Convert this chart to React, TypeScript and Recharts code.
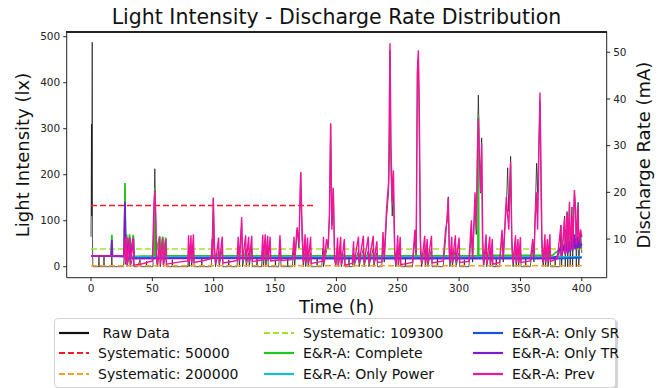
import { LineChart, Line, XAxis, YAxis, Label } from "recharts";

const timeTicks = [0, 50, 100, 150, 200, 250, 300, 350, 400];
const luxTicks = [0, 100, 200, 300, 400, 500];
const rateTicks = [10, 20, 30, 40, 50];

// raw light readings, [hour, lx]
const rawData: [number, number][] = [
  [0, 65], [0.2, 160], [0.4, 310], [0.6, 110], [0.8, 240], [1.0, 488], [1.2, 60], [1.5, 0],
  [6.3, 0], [6.5, 24], [6.7, 0], [10.4, 0], [10.6, 25], [10.8, 0], [16.8, 0], [17, 28], [17.2, 0],
  [26.5, 0], [27.2, 30], [27.6, 60], [28, 5], [29, 30], [29.4, 0], [31.5, 25], [32, 0], [34.5, 25], [35, 0],
  [38, 0], [40, 15], [40.3, 0], [45, 0], [45.3, 12], [45.6, 0],
  [50.5, 0], [51.3, 110], [52, 213], [52.6, 140], [53.2, 20], [54, 0],
  [56, 40], [56.5, 0], [58.5, 45], [59, 0], [61, 30], [61.5, 0], [66, 0], [66.3, 15], [66.6, 0],
  [79, 0], [79.5, 50], [80, 0], [81.5, 45], [82, 0], [83.5, 40], [84, 0], [90, 0], [90.3, 18], [90.6, 0],
  [98, 0], [99.2, 100], [99.7, 150], [100.5, 40], [101.5, 0], [104, 35], [104.5, 0], [107, 40], [107.5, 0],
  [112, 0], [112.3, 15], [112.6, 0],
  [119, 0], [120, 40], [121, 0], [122.8, 95], [123.5, 0], [126, 35], [126.5, 0], [128.5, 30], [129, 0], [131, 40], [131.5, 0],
  [135, 0], [135.3, 20], [135.6, 0], [139, 0], [140, 40], [140.5, 0], [142, 35], [142.5, 0], [144, 40], [144.5, 0],
  [150, 0], [150.3, 15], [150.6, 0], [153, 0], [154, 40], [155, 0], [160, 0], [160.3, 20], [160.6, 0],
  [164, 0], [165.5, 40], [166, 0], [168, 80], [169.5, 40], [170.9, 205], [172, 60], [173, 0], [174.5, 30], [175, 0],
  [176.5, 35], [177, 0], [179, 30], [179.5, 0], [184, 0], [184.3, 18], [184.6, 0],
  [188, 0], [189, 40], [189.5, 0], [192, 35], [193.5, 60], [194.5, 120], [195.3, 310], [196.3, 90], [197.5, 170],
  [198.5, 20], [199.5, 0], [201, 40], [201.5, 0], [203.5, 35], [204, 0], [206.5, 30], [207, 0], [210, 0], [210.3, 20], [210.6, 0],
  [213, 0], [214, 30], [214.5, 0], [218, 35], [218.5, 0], [222, 40], [222.5, 0], [226, 35], [226.5, 0], [230, 40], [230.5, 0], [233, 30], [233.5, 0],
  [237, 0], [238, 50], [239, 10], [241, 110], [242.5, 160], [243.3, 250], [243.7, 470], [244.5, 200], [245.5, 110],
  [246.5, 170], [247.5, 20], [248.5, 0], [250, 40], [250.5, 0], [252, 35], [252.5, 0], [256, 0], [256.3, 18], [256.6, 0],
  [262, 0], [264, 60], [265, 20], [266, 420], [266.8, 455], [267.5, 300], [268.5, 30], [269.5, 0], [272, 40], [272.5, 0],
  [274, 30], [274.5, 0], [277.5, 40], [278, 0], [282, 0], [282.3, 20], [282.6, 0],
  [287, 0], [289, 60], [290.4, 120], [291.2, 152], [292, 30], [292.5, 0], [294, 35], [294.5, 0], [297, 40], [297.5, 0], [300, 30], [300.5, 0],
  [304, 0], [304.3, 15], [304.6, 0],
  [308, 0], [310, 70], [311, 10], [313, 140], [314, 70], [315.2, 300], [315.7, 373], [316.5, 250], [317.5, 160], [318.4, 280],
  [319, 40], [320, 0], [322, 40], [322.5, 0], [325, 35], [325.5, 0], [327, 30], [327.5, 0], [330, 0], [330.3, 20], [330.6, 0],
  [333, 0], [335, 70], [336, 10], [337.5, 90], [338.5, 130], [339.6, 215], [340.5, 120], [342, 240], [343, 40], [344, 0],
  [346, 40], [346.5, 0], [348, 35], [348.5, 0], [350, 40], [350.5, 0], [354, 0], [354.3, 20], [354.6, 0],
  [358, 0], [360, 40], [361, 10], [362, 120], [363.2, 225], [364, 160], [365.9, 360], [366.8, 150], [367.5, 30], [368.5, 0],
  [370, 40], [370.5, 0], [372, 45], [372.5, 0], [374, 40], [374.5, 0], [378, 0], [378.3, 20], [378.6, 0],
  [382, 0], [383, 90], [383.5, 0], [386, 110], [386.5, 0], [388, 120], [388.5, 0], [390, 140], [390.5, 0], [392, 130], [392.5, 0],
  [394, 160], [395, 120], [395.5, 0], [397, 140], [397.5, 0], [399, 80], [400, 30],
];

// fixed-rate strategies, [hour, mA]
const sys50000: [number, number][] = [[0, 17.2], [182.6, 17.2]];
const sys200000: [number, number][] = [[0, 4.3], [400, 4.3]];
const sys109300: [number, number][] = [[0, 7.86], [400, 7.86]];

const completeData: [number, number][] = [
  [0, 6.4], [16.5, 6.4], [17, 10.9], [17.4, 6.4], [26, 6.4], [27.2, 6.3], [27.7, 22], [28.2, 6.3], [29, 11], [29.5, 6.3],
  [31.5, 11], [32, 6.3], [34.5, 10.9], [35, 6.3], [51.7, 6.4], [52.1, 21], [52.5, 6.4], [56, 10.6], [56.5, 6.4],
  [58.5, 10.5], [59, 6.4], [61, 10.3], [61.5, 6.4], [200, 6.4], [315.4, 6.4], [315.7, 36.5], [316, 6.5], [376, 6.5],
  [383, 8], [386, 7.5], [390, 8.2], [394, 9.5], [398, 8.6], [400, 8],
];
const onlyPowerData: [number, number][] = [[0, 6.4], [27, 6.3], [28, 6.2], [150, 6.2], [300, 6.2], [400, 6.2]];
const onlySRData: [number, number][] = [[0, 6.4], [27, 6.3], [27.7, 17], [28.2, 5.9], [50, 5.9], [200, 5.8], [380, 5.8], [400, 6.0]];
const onlyTRData: [number, number][] = [
  [0, 6.4], [16.5, 6.4], [17, 9.8], [17.4, 6.4], [27, 6.3], [27.7, 18], [28.2, 5.8], [29, 10.3], [29.5, 5.8],
  [31.5, 10.2], [32, 5.8], [34.5, 10], [35, 5.8], [100, 5.9], [250, 5.9], [376, 5.9], [380, 6.3], [383, 8.5], [383.5, 6.5],
  [386, 9], [386.5, 6.8], [388, 10], [388.5, 7], [390, 9.5], [390.5, 7.3], [392, 10.5], [392.5, 7.5], [394, 11], [394.5, 7.8],
  [396, 10.5], [396.5, 8], [398, 11], [398.5, 8.3], [400, 9],
];
const prevData: [number, number][] = [
  [0, 6.4], [26, 6.4], [27, 6.3], [27.6, 10.5], [28.1, 4.8], [29, 10.5], [29.5, 4.6], [31.5, 10.4], [32, 4.5], [34.5, 10.3], [35, 4.4],
  [42, 4.7], [50, 5.3], [51.3, 17], [52.1, 20.5], [52.8, 14], [53.5, 6], [54.3, 4.5], [56, 10.4], [56.5, 4.5], [58.5, 10.3], [59, 4.5], [61, 10], [61.5, 4.6],
  [70, 5.0], [79, 5.3], [79.5, 10.8], [80, 5], [81.5, 10.8], [82, 4.9], [83.5, 11], [84, 5],
  [92, 5.4], [98, 5.8], [98.8, 10], [99.3, 6], [99.7, 18.8], [100.5, 9], [101.5, 4.8], [104, 10.3], [104.5, 4.8], [107, 10.5], [107.5, 4.9],
  [115, 5.2], [119, 5.4], [120, 10.5], [121, 5.2], [122.8, 14.7], [123.6, 5.3], [126, 10.8], [126.5, 5.2], [128.5, 10.5], [129, 5.2], [131, 10.7], [131.5, 5.2],
  [139, 5.5], [140, 10.9], [140.5, 5.4], [142, 11], [142.5, 5.4], [144, 10.7], [144.5, 5.3], [146, 10.5], [146.5, 5.3],
  [153, 5.5], [154, 10.8], [155, 5.4],
  [164, 5.6], [165.5, 10.5], [166, 5.6], [168, 12.5], [169.5, 9], [170.9, 24.3], [171.8, 15], [173, 5], [174.5, 11], [175, 5],
  [176.5, 10.3], [177, 4.8], [179, 10.5], [179.5, 4.8],
  [186, 5.1], [189, 5.3], [189.5, 10.5], [190, 5], [192, 10], [193.3, 8], [194.3, 15], [195.3, 34.8], [196.3, 12], [197.5, 21],
  [198.5, 6], [199.5, 4.5], [201, 10.3], [201.5, 4.4], [203.5, 10.5], [204, 4.4], [206.5, 10], [207, 4.4],
  [213, 4.8], [214, 9.5], [214.5, 4.9], [218, 10.5], [218.5, 4.9], [222, 10.7], [222.5, 4.9], [226, 10.5], [226.5, 4.9],
  [230, 10.7], [230.5, 5], [233, 9.5], [233.5, 5],
  [237, 5.1], [238, 11.5], [239, 6], [241, 17], [242.5, 22], [243.7, 51.9], [244.5, 30], [245.5, 18], [246.5, 24.7], [247.5, 8],
  [248.5, 4.5], [250, 10.8], [250.5, 4.5], [252, 10.5], [252.5, 4.5],
  [262, 5], [264, 12], [265, 7], [266, 46], [266.8, 50.4], [267.5, 40], [268.5, 10], [269.5, 4.8], [272, 10.7], [272.5, 4.8],
  [274, 10], [274.5, 4.8], [277.5, 10.7], [278, 4.9],
  [287, 5.3], [289, 12], [290.4, 14], [291.2, 18.8], [292, 8], [292.5, 5], [294, 10.5], [294.5, 5], [297, 10.8], [297.5, 5], [300, 10.3], [300.5, 5],
  [308, 5.2], [310, 14], [311, 6], [313, 20], [314, 12], [315.2, 32], [315.7, 36], [316.5, 28], [317.5, 20], [318.4, 30.5],
  [319.3, 10], [320, 4.5], [322, 11], [322.5, 4.6], [325, 10.5], [325.5, 4.6], [327, 10], [327.5, 4.6],
  [333, 5], [335, 12], [336, 6], [337.5, 14], [338.5, 19], [339.6, 15], [340.5, 12], [342, 26.5], [343, 10], [344, 4.8],
  [346, 10.8], [346.5, 4.9], [348, 10], [348.5, 4.9], [350, 10.4], [350.5, 5],
  [358, 5.3], [360, 10], [361, 6], [362, 14], [363.2, 20], [364, 12], [365.9, 41.4], [366.8, 25], [367.5, 10], [368.5, 5],
  [370, 11], [370.5, 5], [372, 10], [372.5, 5], [374, 11], [374.5, 5.2],
  [380, 5.8], [383, 13], [383.5, 6.3], [386, 14.5], [386.5, 6.8], [388, 15.5], [388.5, 7.2], [390, 18], [390.5, 7.6],
  [392, 15], [392.5, 8], [394, 20.5], [395, 16], [395.5, 8.8], [397, 17], [397.5, 9.5], [399, 12], [400, 10.4],
];

const seriesNames = [
  " Raw Data", "Systematic: 50000", "Systematic: 200000",
  "Systematic: 109300", "E&R-A: Complete", "E&R-A: Only Power",
  "E&R-A: Only SR", "E&R-A: Only TR", "E&R-A: Prev",
];
const seriesColors = ["#111111", "#f51a24", "#ffa020", "#9ee22a", "#1ec81e", "#19bcd0", "#2050e0", "#7a1ed0", "#f0149a"];
const seriesDashed = [false, true, true, true, false, false, false, false, false];
const seriesValues = [rawData, sys50000, sys200000, sys109300, completeData, onlyPowerData, onlySRData, onlyTRData, prevData];

const toPts = (arr: [number, number][]) => arr.map(([t, v]) => ({ t, v }));

const FONT = "DejaVu Sans, sans-serif";
const FRAME = "#222";

export default function App() {
  const tickStyle = { fontSize: 10.5, fill: "#222", fontFamily: FONT };
  return (
    <div style={{ position: "fixed", left: 0, top: 0, width: 663, height: 388, background: "#fff", fontFamily: FONT }}>
      <div style={{ position: "absolute", left: 0, width: 673, top: 5, textAlign: "center", fontSize: 20.5, lineHeight: "24px", color: "#111" }}>
        Light Intensity - Discharge Rate Distribution
      </div>
      <LineChart width={663} height={388} margin={{ top: 31.7, right: 11.3, bottom: 80.3, left: 21.7 }}>
        <XAxis
          dataKey="t"
          type="number"
          domain={[-19.8, 420.3]}
          ticks={timeTicks}
          allowDataOverflow
          height={30}
          tickSize={3.5}
          tickMargin={3}
          tick={tickStyle}
          stroke={FRAME}
        >
          <Label
            content={() => (
              <text x={336.7} y={306} textAnchor="middle" dominantBaseline="central" fontSize={18} fontFamily={FONT} fill="#111">
                Time (h)
              </text>
            )}
          />
        </XAxis>
        <YAxis
          yAxisId="lux"
          type="number"
          domain={[-23.9, 510.9]}
          ticks={luxTicks}
          allowDataOverflow
          width={45}
          tickSize={3.5}
          tickMargin={3}
          tick={tickStyle}
          stroke={FRAME}
        >
          <Label
            content={() => (
              <text x={22} y={155} transform="rotate(-90 22 155)" textAnchor="middle" dominantBaseline="central" fontSize={18} fontFamily={FONT} fill="#111">
                Light Intensity (lx)
              </text>
            )}
          />
        </YAxis>
        <YAxis
          yAxisId="rate"
          orientation="right"
          type="number"
          domain={[1.72, 54.4]}
          ticks={rateTicks}
          allowDataOverflow
          width={45}
          tickSize={3.5}
          tickMargin={3}
          tick={tickStyle}
          stroke={FRAME}
        >
          <Label
            content={() => (
              <text x={643} y={155} transform="rotate(-90 643 155)" textAnchor="middle" dominantBaseline="central" fontSize={18} fontFamily={FONT} fill="#111">
                Discharge Rate (mA)
              </text>
            )}
          />
        </YAxis>
        {seriesValues.map((vals, i) => (
          <Line
            key={seriesNames[i]}
            data={toPts(vals)}
            dataKey="v"
            yAxisId={i === 0 ? "lux" : "rate"}
            type="linear"
            stroke={seriesColors[i]}
            strokeOpacity={i === 0 ? 0.7 : 1}
            strokeWidth={i === 0 ? 1 : i === 8 ? 1.4 : seriesDashed[i] ? 1.5 : 1.8}
            strokeDasharray={seriesDashed[i] ? "6 3" : undefined}
            dot={false}
            activeDot={false}
            isAnimationActive={false}
          />
        ))}
      </LineChart>
      {/* top edge of the plot frame */}
      <div style={{ position: "absolute", zIndex: 2, left: 66, top: 31, width: 541, height: 1.5, background: FRAME, pointerEvents: "none" }} />
      <div
        style={{
          position: "absolute", left: 54, top: 318, width: 560, height: 68, border: "1px solid #d4d4d4",
          borderRadius: 4, background: "#fff", boxShadow: "2px 2px 1px rgba(0,0,0,0.18)", fontSize: 14, color: "#111",
        }}
      >
        {seriesNames.map((name, i) => {
          const col = Math.floor(i / 3);
          const row = i % 3;
          const left = [4, 209, 418][col];
          const top = [4, 24, 45][row];
          return (
            <div key={name} style={{ position: "absolute", left, top, height: 20, display: "flex", alignItems: "center", whiteSpace: "pre" }}>
              <svg width={30} height={20} style={{ marginRight: 9 }}>
                <line x1={0} y1={10} x2={30} y2={10} stroke={seriesColors[i]} strokeWidth={2.2} strokeDasharray={seriesDashed[i] ? "6 3" : undefined} />
              </svg>
              <span>{name}</span>
            </div>
          );
        })}
      </div>
    </div>
  );
}
